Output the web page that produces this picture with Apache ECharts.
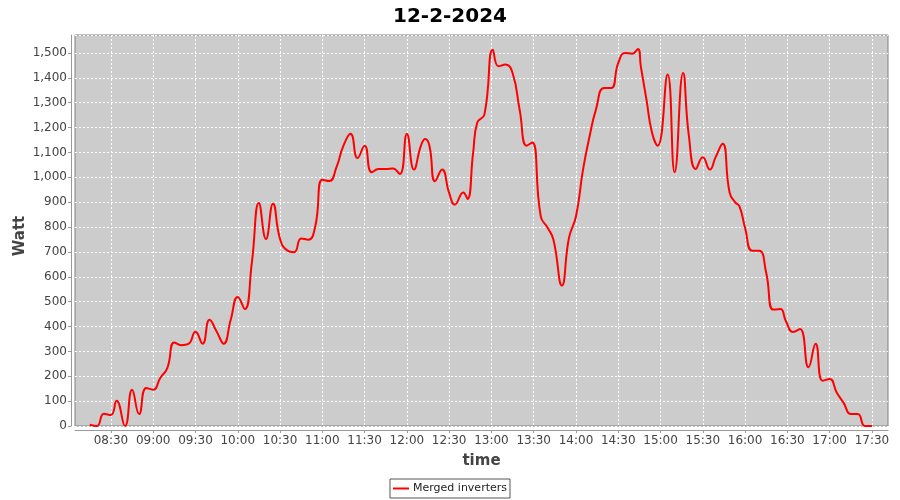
<!DOCTYPE html>
<html>
<head>
<meta charset="utf-8">
<script src="https://cdn.jsdelivr.net/npm/echarts@6/dist/echarts.min.js"></script>
<style>
html,body{margin:0;padding:0;background:#fff;}
#c{width:900px;height:500px;}
</style>
</head>
<body>
<div id="c"></div>
<script>
var title = "12-2-2024";
var seriesName = "Merged inverters";
var xName = "time";
var yName = "Watt";
var times = ["08:15","08:20","08:25","08:30","08:34","08:40","08:45","08:50","08:55","09:00",
  "09:05","09:10","09:15","09:20","09:25","09:30","09:35","09:40","09:45","09:50",
  "09:55","10:00","10:05","10:10","10:15","10:20","10:25","10:30","10:35","10:40",
  "10:45","10:50","10:55","11:00","11:05","11:10","11:15","11:20","11:25","11:30",
  "11:35","11:40","11:45","11:50","11:55","12:00","12:05","12:10","12:13","12:16",
  "12:20","12:25","12:30","12:34","12:40","12:43","12:47","12:50","12:55","13:01",
  "13:05","13:10","13:15","13:20","13:25","13:29","13:35","13:40","13:44","13:50",
  "13:55","14:00","14:05","14:10","14:14","14:20","14:25","14:30","14:35","14:40",
  "14:44","14:46","14:50","14:54","14:58","15:05","15:10","15:16","15:20","15:25",
  "15:30","15:35","15:39","15:44","15:49","15:53","15:56","16:00","16:05","16:10",
  "16:15","16:20","16:25","16:29","16:34","16:39","16:45","16:50","16:55","17:00",
  "17:05","17:10","17:15","17:20","17:25","17:30"];
var watts = [5,0,49,44,102,0,146,48,153,146,
  193,233,336,325,330,379,331,427,380,331,
  427,519,470,658,897,752,894,752,706,699,
  754,749,803,990,985,1040,1127,1175,1077,1127,
  1020,1033,1033,1035,1013,1174,1031,1127,1154,1127,
  984,1031,937,890,939,913,1098,1221,1252,1513,
  1446,1453,1419,1272,1127,1140,843,796,749,565,
  756,843,1031,1174,1269,1359,1359,1460,1500,1497,
  1516,1446,1312,1178,1127,1413,1020,1419,1171,1033,
  1080,1031,1080,1135,939,899,883,796,705,705,
  615,468,470,421,378,390,236,331,182,189,
  135,92,48,48,0,0];
var xTickLabels = ["08:30","09:00","09:30","10:00","10:30","11:00","11:30","12:00","12:30","13:00",
  "13:30","14:00","14:30","15:00","15:30","16:00","16:30","17:00","17:30"];

function toMin(s){var p=s.split(":");return (+p[0])*60+(+p[1]);}
function fmtMin(m){var h=Math.floor(m/60),mm=Math.round(m-h*60);return (h<10?"0":"")+h+":"+(mm<10?"0":"")+mm;}
var tickVals = xTickLabels.map(toMin);
var data = times.map(function(t,i){return [toMin(t), watts[i]];});

var chart = echarts.init(document.getElementById('c'), null, {renderer:'canvas'});
var txt = '#444444';
chart.setOption({
  animation:false,
  backgroundColor:'#ffffff',
  title:{text:title,left:'center',top:2,textStyle:{fontFamily:'DejaVu Sans',fontWeight:'bold',fontSize:20,color:'#000'}},
  legend:{bottom:2,left:'center',data:[{name:seriesName,icon:'rect'}],itemWidth:16,itemHeight:2,itemGap:4,
    borderColor:'#555',borderWidth:1,borderRadius:0,padding:[4,3,4,3],
    textStyle:{fontFamily:'DejaVu Sans',fontSize:11,color:'#222',padding:[0,0,0,-1]}},
  graphic:[{type:'text',x:20,y:236,rotation:Math.PI/2,silent:true,
    style:{text:yName,font:'bold 15px "DejaVu Sans"',fill:txt,align:'center',verticalAlign:'middle'}}],
  grid:{left:75,right:12,top:35,bottom:74,outerBoundsMode:'none',containLabel:false,show:true,backgroundColor:'#cccccc',borderColor:'#808080',borderWidth:1},
  xAxis:{type:'value',min:484.5,max:1061.4,name:xName,nameLocation:'middle',nameGap:24,
    nameTextStyle:{fontFamily:'DejaVu Sans',fontWeight:'bold',fontSize:15,color:txt},
    offset:4,
    axisLine:{show:true,onZero:false,lineStyle:{color:'#999999'}},
    axisTick:{show:true,length:3,customValues:tickVals,lineStyle:{color:'#999999'}},
    axisLabel:{customValues:tickVals,formatter:function(v){return fmtMin(v);},fontFamily:'DejaVu Sans',fontSize:12,color:txt,margin:5},
    splitLine:{show:true,lineStyle:{color:'#ffffff',type:[2,2],width:1}}},
  yAxis:{type:'value',min:0,max:1572,interval:100,
    offset:4,
    axisLine:{show:true,lineStyle:{color:'#999999'}},
    axisTick:{show:true,length:3,lineStyle:{color:'#999999'}},
    axisLabel:{formatter:function(v){return v.toLocaleString('en-US');},showMaxLabel:false,fontFamily:'DejaVu Sans',fontSize:12,color:txt,margin:4},
    splitLine:{show:true,lineStyle:{color:'#ffffff',type:[2,2],width:1}}},
  series:[{name:seriesName,type:'line',data:data,smooth:0.5,symbol:'none',clip:true,
    lineStyle:{color:'#ff0000',width:2},itemStyle:{color:'#ff0000'}}]
});
</script>
</body>
</html>
